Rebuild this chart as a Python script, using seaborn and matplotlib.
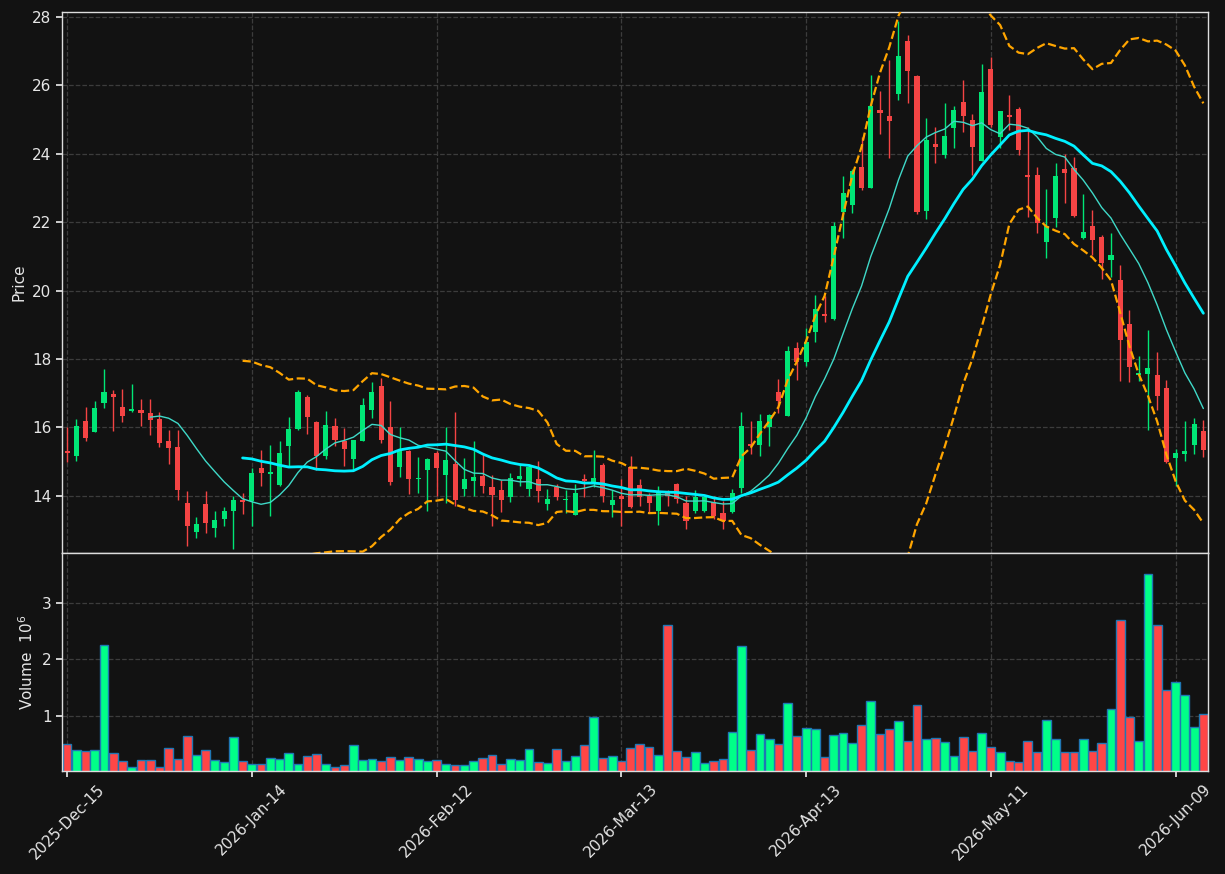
import numpy as np
import pandas as pd
import matplotlib
matplotlib.use("Agg")
import matplotlib.pyplot as plt
import seaborn as sns

# trading calendar (US business days, market holidays removed)
start_date = "2025-12-15"
end_date = "2026-06-12"
market_holidays = ["2025-12-25", "2026-01-01", "2026-01-19",
                   "2026-02-16", "2026-04-03", "2026-05-25"]

opens = [15.32, 15.16, 16.20, 15.86, 16.73, 16.99, 16.61, 16.47, 16.52, 16.43,
         16.26, 15.61, 15.44, 13.78, 12.94, 13.75, 13.05, 13.32, 13.55, 13.87,
         13.84, 14.82, 14.63, 14.31, 15.45, 15.96, 16.90, 16.17, 15.18, 16.05,
         15.61, 15.09, 15.61, 16.50, 17.20, 16.01, 14.84, 15.32, 14.49, 14.75,
         15.24, 14.60, 14.94, 14.21, 14.43, 14.59, 14.26, 14.18, 13.96, 14.49,
         14.21, 14.48, 13.75, 14.25, 13.87, 13.43, 14.48, 14.38, 14.91, 13.72,
         14.01, 14.83, 14.33, 13.99, 13.55, 14.11, 14.35, 13.78, 13.57, 13.55,
         13.83, 13.50, 13.52, 14.22, 15.53, 15.48, 16.00, 17.03, 16.33, 18.33,
         17.90, 18.78, 19.32, 19.18, 22.31, 22.51, 23.62, 23.01, 25.28, 25.12,
         25.76, 27.29, 26.27, 22.33, 24.28, 23.96, 24.76, 25.52, 24.99, 23.80,
         26.48, 24.50, 25.13, 25.31, 23.38, 23.38, 21.43, 22.14, 23.56, 23.59,
         21.55, 21.89, 21.56, 20.90, 20.32, 19.03, 17.52, 17.57, 17.54, 17.15,
         15.10, 15.21, 15.50, 15.91]
highs = [16.01, 16.25, 16.60, 16.77, 17.71, 17.10, 17.13, 17.27, 16.84, 16.84,
         16.45, 15.93, 15.93, 14.15, 13.37, 14.15, 13.57, 13.68, 13.99, 14.09,
         14.82, 15.33, 15.49, 15.60, 16.31, 17.10, 16.96, 16.20, 16.48, 16.28,
         15.98, 15.64, 16.86, 17.33, 17.45, 16.76, 16.00, 15.35, 15.13, 15.12,
         15.30, 16.00, 16.45, 15.11, 15.60, 15.24, 14.62, 14.46, 14.67, 14.93,
         14.94, 15.03, 14.20, 14.35, 14.18, 14.35, 14.64, 15.35, 14.96, 14.18,
         14.48, 15.18, 14.48, 14.09, 14.28, 14.18, 14.37, 13.99, 14.18, 14.00,
         13.99, 13.84, 14.20, 16.45, 16.20, 16.39, 16.40, 17.42, 18.39, 18.49,
         18.90, 19.86, 19.83, 22.02, 23.35, 23.55, 24.50, 26.32, 25.84, 26.74,
         27.90, 27.47, 26.30, 25.04, 24.79, 25.50, 25.40, 26.15, 25.18, 26.62,
         26.82, 25.25, 25.71, 25.36, 24.79, 23.62, 22.96, 23.72, 23.99, 23.90,
         22.82, 22.36, 21.63, 21.68, 20.75, 19.44, 18.08, 18.86, 18.22, 17.38,
         15.37, 16.18, 16.28, 16.21]
lows = [14.98, 15.02, 15.60, 15.86, 16.57, 15.89, 16.16, 16.45, 16.04, 15.78,
        15.43, 14.93, 13.87, 12.53, 12.77, 12.92, 12.80, 13.11, 12.45, 13.47,
        13.11, 14.28, 13.41, 14.28, 14.85, 15.94, 15.81, 14.77, 15.08, 15.45,
        14.88, 14.77, 15.61, 16.28, 15.55, 14.33, 14.55, 14.06, 14.09, 13.55,
        14.01, 13.79, 13.70, 13.99, 14.01, 14.09, 13.11, 13.53, 13.82, 14.28,
        13.99, 13.81, 13.58, 13.87, 13.50, 13.43, 13.96, 14.26, 13.81, 13.39,
        13.11, 13.65, 13.70, 13.50, 13.16, 13.70, 13.79, 13.02, 13.50, 13.53,
        13.31, 13.02, 13.50, 14.09, 15.23, 15.16, 15.45, 16.42, 16.33, 17.40,
        17.79, 18.51, 19.08, 19.15, 21.53, 22.28, 22.94, 23.00, 24.57, 23.87,
        25.59, 25.49, 22.25, 22.09, 23.72, 23.87, 24.16, 24.65, 23.38, 23.78,
        24.80, 24.16, 24.70, 23.96, 22.15, 21.68, 20.95, 21.87, 22.57, 22.15,
        21.50, 21.05, 20.33, 20.41, 17.35, 17.32, 17.35, 15.94, 16.52, 14.95,
        14.30, 15.01, 15.21, 15.14]
closes = [15.24, 16.05, 15.68, 16.58, 17.05, 16.88, 16.35, 16.55, 16.43, 16.21,
          15.56, 15.41, 14.16, 13.11, 13.19, 13.20, 13.28, 13.55, 13.89, 13.81,
          14.67, 14.68, 14.71, 15.26, 15.96, 17.04, 16.30, 15.16, 16.08, 15.64,
          15.38, 15.64, 16.67, 17.04, 15.64, 14.40, 15.35, 14.49, 14.53, 15.09,
          14.81, 15.06, 13.89, 14.48, 14.56, 14.28, 14.04, 13.87, 14.53, 14.59,
          14.85, 14.14, 13.92, 13.96, 13.90, 14.07, 14.43, 14.51, 14.01, 13.89,
          13.92, 13.68, 13.96, 13.78, 14.11, 13.99, 13.91, 13.26, 13.97, 13.97,
          13.41, 13.26, 14.07, 16.05, 15.47, 16.20, 16.37, 16.76, 18.24, 17.90,
          18.49, 19.47, 19.25, 21.89, 22.86, 23.50, 23.01, 25.40, 25.20, 24.97,
          26.86, 26.42, 22.29, 24.40, 24.20, 24.52, 25.28, 25.10, 24.21, 25.81,
          24.84, 25.25, 25.07, 24.11, 23.33, 21.99, 21.89, 23.35, 23.45, 22.18,
          21.71, 21.48, 20.82, 21.05, 18.56, 17.76, 17.59, 17.74, 16.93, 14.98,
          15.24, 15.30, 16.11, 15.33]
# volume in millions of shares
volumes = [0.50, 0.39, 0.376, 0.39, 2.257, 0.34, 0.198, 0.10, 0.216, 0.216,
           0.10, 0.43, 0.234, 0.642, 0.305, 0.39, 0.216, 0.18, 0.624, 0.198,
           0.139, 0.139, 0.251, 0.234, 0.34, 0.139, 0.287, 0.322, 0.145, 0.10,
           0.127, 0.482, 0.216, 0.234, 0.198, 0.269, 0.216, 0.269, 0.234, 0.198,
           0.216, 0.145, 0.127, 0.127, 0.198, 0.251, 0.305, 0.145, 0.234, 0.216,
           0.411, 0.18, 0.163, 0.411, 0.198, 0.287, 0.482, 0.979, 0.251, 0.287,
           0.198, 0.43, 0.50, 0.447, 0.305, 2.612, 0.376, 0.269, 0.358, 0.163,
           0.198, 0.234, 0.713, 2.24, 0.39, 0.678, 0.589, 0.50, 1.228, 0.642,
           0.784, 0.766, 0.269, 0.66, 0.695, 0.518, 0.837, 1.263, 0.678, 0.766,
           0.908, 0.553, 1.192, 0.589, 0.607, 0.536, 0.287, 0.624, 0.376, 0.695,
           0.447, 0.358, 0.198, 0.18, 0.553, 0.358, 0.926, 0.589, 0.358, 0.358,
           0.589, 0.376, 0.518, 1.121, 2.701, 0.979, 0.553, 3.518, 2.612, 1.459,
           1.60, 1.37, 0.802, 1.033]

BG = "#121212"
UP, DOWN = "#00e676", "#f44444"
VOL_UP, VOL_DOWN = "#00ff88", "#ff4646"
TXT = "#e6e6e6"

dates = pd.bdate_range(start_date, end_date, freq="C", holidays=market_holidays)
df = pd.DataFrame({"Open": opens, "High": highs, "Low": lows,
                   "Close": closes, "Volume": volumes}, index=dates)
df["pos"] = np.arange(len(df))
df["dir"] = np.where(df["Close"] >= df["Open"], "up", "down")
df["ma10"] = df["Close"].rolling(10).mean()
df["ma20"] = df["Close"].rolling(20).mean()
std20 = df["Close"].rolling(20).std()
df["bb_up"] = df["ma20"] + 2 * std20
df["bb_lo"] = df["ma20"] - 2 * std20

sns.set_theme(style="dark", rc={
    "axes.facecolor": BG, "figure.facecolor": BG, "axes.edgecolor": "#dddddd",
    "grid.color": "#3c3c3c", "grid.linestyle": "--", "grid.linewidth": 0.9,
    "xtick.color": TXT, "ytick.color": TXT, "axes.labelcolor": TXT,
    "text.color": TXT, "xtick.bottom": True, "ytick.left": True,
})
plt.rcParams["font.family"] = ["DejaVu Sans"]

fig = plt.figure(figsize=(12.25, 8.74), dpi=100)
ax = fig.add_axes([0.0506, 0.3673, 0.9355, 0.619])
axv = fig.add_axes([0.0506, 0.1178, 0.9355, 0.2494], sharex=ax)

# candles
colors = np.where(df["dir"] == "up", UP, DOWN)
ax.vlines(df["pos"], df["Low"], df["High"], colors=colors, linewidth=1.0, zorder=2)
ax.bar(df["pos"], df["Close"] - df["Open"], bottom=df["Open"], width=0.55,
       color=colors, linewidth=0, zorder=3)

# moving averages and bollinger bands
sns.lineplot(data=df, x="pos", y="ma10", ax=ax, color="#3fd9c8", linewidth=1.0, zorder=4)
sns.lineplot(data=df, x="pos", y="ma20", ax=ax, color="#00f0ff", linewidth=2.0, zorder=4)
sns.lineplot(data=df, x="pos", y="bb_up", ax=ax, color="#ffa500", linewidth=1.6,
             linestyle="--", zorder=4)
sns.lineplot(data=df, x="pos", y="bb_lo", ax=ax, color="#ffa500", linewidth=1.6,
             linestyle="--", zorder=4)

# volume
sns.barplot(data=df, x="pos", y="Volume", hue="dir", ax=axv, native_scale=True,
            palette={"up": VOL_UP, "down": VOL_DOWN}, dodge=False, width=0.95,
            saturation=1, edgecolor="#1f77b4", linewidth=1.0, errorbar=None,
            legend=False)

tick_pos = np.arange(0, len(df), 20)
ax.set_xlim(-0.55, len(df) - 0.5)
ax.set_ylim(12.33, 28.15)
ax.set_yticks(np.arange(14, 29, 2))
ax.set_ylabel("Price", fontsize=11)
ax.set_xlabel("")
ax.tick_params(axis="x", labelbottom=False, length=0)
ax.tick_params(axis="y", labelsize=11, length=4)

axv.set_ylim(0.02, 3.885)
axv.set_yticks([1, 2, 3])
axv.set_xticks(tick_pos)
axv.set_xticklabels([d.strftime("%Y-%b-%d") for d in df.index[tick_pos]],
                    rotation=45, fontsize=11)
axv.set_ylabel(r"Volume  $10^{6}$", fontsize=11)
axv.set_xlabel("")
axv.tick_params(axis="both", labelsize=11, length=4)

for a in (ax, axv):
    a.grid(True, which="major", axis="both")
    for s in a.spines.values():
        s.set_color("#dddddd")
        s.set_linewidth(1.0)

fig.savefig("out.png", dpi=100, facecolor=BG)
